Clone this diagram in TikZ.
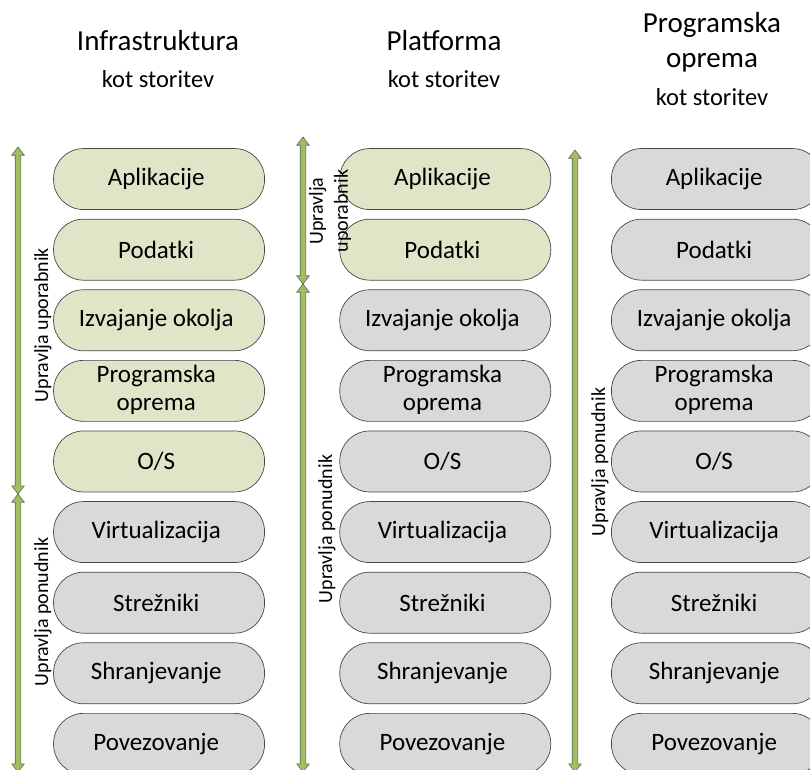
\documentclass[tikz,border=0pt]{standalone}
\usepackage{fontspec}
\setmainfont{Carlito}
\usetikzlibrary{matrix,positioning,shapes.arrows}
\definecolor{usergreen}{RGB}{223,230,200}
\definecolor{providergray}{RGB}{217,217,217}
\definecolor{pillline}{RGB}{72,72,72}
\definecolor{arrowgreen}{RGB}{160,189,98}
\definecolor{arrowline}{RGB}{95,105,85}
\newcommand\twolines[2]{\begin{tabular}{@{}c@{}}#1\\#2\end{tabular}}
\tikzset{
  layer/.style={draw=pillline, line width=0.7pt, fill=providergray,
    rounded corners=30pt, minimum width=211pt, minimum height=61pt,
    inner sep=0pt, align=center, font=\fontsize{25}{28}\selectfont},
  user/.style={fill=usergreen},
  span/.style={double arrow, draw=arrowline, fill=arrowgreen, line width=0.6pt,
    rotate=90, inner sep=2.5pt, minimum width=12pt,
    double arrow head extend=3.5pt, double arrow tip angle=75},
  who/.style={rotate=90, align=center, font=\fontsize{20}{25}\selectfont},
  title/.style={align=center, font=\fontsize{29}{35}\selectfont},
  subtitle/.style={font=\fontsize{24.5}{28}\selectfont}
}

\begin{document}
\begin{tikzpicture}[x=1pt, y=-1pt]
  \useasboundingbox (0,0) rectangle (810,769);
  % headings
  \node [title, anchor=base] (iaas) at (158,50) {Infrastruktura};
  \node [subtitle, anchor=base] (iaas sub) at (158,87) {kot storitev};
  \node [title, anchor=base] (paas) at (444,50) {Platforma};
  \node [subtitle, anchor=base] (paas sub) at (444,87) {kot storitev};
  \node [title, anchor=base] (saas) at (712,67) {Programska\\oprema};
  \node [subtitle, anchor=base] (saas sub) at (712,105) {kot storitev};
  % the three stacks
  \matrix (stack)
    [
      matrix of nodes,
      nodes         = {layer},
      row sep       = 8.9pt,
      column sep    = 74.5pt,
      inner sep     = 0pt,
      anchor        = north west
    ] at (53,148)
    {
      |[user]| Aplikacije & |[user]| Aplikacije &[-14.5pt] Aplikacije \\
      |[user]| Podatki & |[user]| Podatki & Podatki \\
      |[user]| Izvajanje okolja & Izvajanje okolja & Izvajanje okolja \\
      |[user]| \twolines{Programska}{oprema} & \twolines{Programska}{oprema}
        & \twolines{Programska}{oprema} \\
      |[user]| O/S & O/S & O/S \\
      Virtualizacija & Virtualizacija & Virtualizacija \\
      Strežniki & Strežniki & Strežniki \\
      Shranjevanje & Shranjevanje & Shranjevanje \\
      Povezovanje & Povezovanje & Povezovanje \\
    };
  % who manages what
  \node [span, minimum height=347pt] (iaas user) at (18,320.5) {};
  \node [span, minimum height=278pt] (iaas provider) at (18,633) {};
  \node [span, minimum height=147pt] (paas user) at (303,210.5) {};
  \node [span, minimum height=488pt] (paas provider) at (303,528) {};
  \node [span, minimum height=622pt] (saas provider) at (575,461) {};
  \node [who] (iaas user label) at (43,325) {Upravlja uporabnik};
  \node [who] (iaas provider label) at (43,612) {Upravlja ponudnik};
  \node [who] (paas user label) at (330,211) {Upravlja\\uporabnik};
  \node [who] (paas provider label) at (327,529) {Upravlja ponudnik};
  \node [who] (saas provider label) at (600,462) {Upravlja ponudnik};
\end{tikzpicture}
\end{document}
